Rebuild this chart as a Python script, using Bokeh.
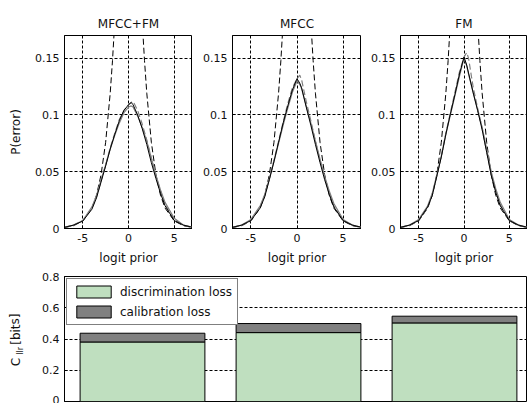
from bokeh.plotting import figure
from bokeh.layouts import row, column
from bokeh.models import FixedTicker, Legend, LegendItem, Range1d
from bokeh.core.properties import value
from bokeh.embed import file_html
from bokeh.resources import INLINE

# ---------------- data ----------------
titles = ["MFCC+FM", "MFCC", "FM"]

# reference (default) curve (black dashed)
ref_x = [-7, -6, -5, -4, -3.5, -3, -2.5, -2, -1.75, -1.5, -1, 0, 1, 1.5, 1.75, 2, 2.5, 3, 3.5, 4, 5, 6, 7]
ref_y = [0.0009, 0.0025, 0.0067, 0.018, 0.0293, 0.0474, 0.0759, 0.1192, 0.148, 0.1824, 0.2689, 0.5,
         0.2689, 0.1824, 0.148, 0.1192, 0.0759, 0.0474, 0.0293, 0.018, 0.0067, 0.0025, 0.0009]

curve_x = [-7, -6, -5, -4, -3.5, -3, -2.5, -2, -1.5, -1, -0.5, 0, 0.3, 0.5, 1, 1.5, 2, 2.5, 3, 3.5, 4, 5, 6, 7]

# MFCC+FM
act_1 = [0.001, 0.003, 0.0065, 0.017, 0.027, 0.041, 0.055, 0.070, 0.083, 0.095, 0.104, 0.109, 0.111, 0.109,
         0.100, 0.088, 0.074, 0.058, 0.044, 0.031, 0.020, 0.007, 0.003, 0.001]
min_1 = [0.001, 0.003, 0.007, 0.019, 0.029, 0.043, 0.056, 0.070, 0.082, 0.093, 0.102, 0.107, 0.108, 0.107,
         0.099, 0.089, 0.077, 0.062, 0.047, 0.034, 0.023, 0.009, 0.003, 0.001]
alt_1 = [0.001, 0.003, 0.007, 0.018, 0.028, 0.042, 0.056, 0.071, 0.084, 0.096, 0.104, 0.109, 0.111, 0.112,
         0.104, 0.092, 0.078, 0.062, 0.046, 0.033, 0.021, 0.008, 0.003, 0.001]
# MFCC
act_2 = [0.001, 0.003, 0.007, 0.018, 0.028, 0.043, 0.059, 0.076, 0.093, 0.108, 0.122, 0.132, 0.128, 0.124,
         0.107, 0.091, 0.074, 0.058, 0.043, 0.030, 0.019, 0.007, 0.003, 0.001]
min_2 = [0.001, 0.003, 0.008, 0.020, 0.030, 0.044, 0.059, 0.075, 0.091, 0.106, 0.120, 0.130, 0.127, 0.123,
         0.108, 0.093, 0.077, 0.061, 0.046, 0.033, 0.022, 0.008, 0.003, 0.001]
alt_2 = [0.001, 0.003, 0.007, 0.019, 0.029, 0.044, 0.060, 0.077, 0.094, 0.110, 0.124, 0.132, 0.135, 0.131,
         0.112, 0.095, 0.077, 0.060, 0.045, 0.031, 0.020, 0.007, 0.003, 0.001]
# FM
act_3 = [0.001, 0.003, 0.007, 0.019, 0.029, 0.046, 0.063, 0.083, 0.101, 0.118, 0.136, 0.151, 0.144, 0.137,
         0.120, 0.104, 0.087, 0.067, 0.047, 0.032, 0.020, 0.007, 0.003, 0.001]
min_3 = [0.001, 0.003, 0.008, 0.020, 0.031, 0.047, 0.064, 0.083, 0.100, 0.117, 0.134, 0.150, 0.143, 0.136,
         0.120, 0.105, 0.089, 0.070, 0.050, 0.035, 0.023, 0.008, 0.003, 0.001]
alt_3 = [0.001, 0.003, 0.007, 0.019, 0.030, 0.046, 0.064, 0.084, 0.102, 0.120, 0.138, 0.151, 0.155, 0.150,
         0.125, 0.106, 0.088, 0.068, 0.048, 0.033, 0.021, 0.007, 0.003, 0.001]

x_ticks = [-5, 0, 5]
x_tick_labels = ["-5", "0", "5"]
y_ticks_top = [0, 0.05, 0.1, 0.15]
y_tick_labels_top = ["0", "0.05", "0.1", "0.15"]

# bottom bar chart
bar_pos = [1, 2, 3]
discrimination_loss = [0.381, 0.441, 0.503]
total_cllr = [0.437, 0.499, 0.546]
y_ticks_bot = [0, 0.2, 0.4, 0.6, 0.8]
y_tick_labels_bot = ["0", "0.2", "0.4", "0.6", "0.8"]

# y-axis label of the bar chart, in parts (C, subscript llr, [bits])
ylab_parts = ["C", "llr", "[bits]"]

FONT = "DejaVu Sans"
GREY = "#808080"
GREEN = "#bfdfbf"
TXT = "#111111"


def style_axes(p, xt, xl, yt, yl):
    for ax in p.xaxis + p.yaxis:
        ax.major_label_text_font = FONT
        ax.major_label_text_font_size = "11px"
        ax.major_label_text_color = TXT
        ax.major_label_standoff = 5
        ax.axis_label_text_font = FONT
        ax.axis_label_text_font_size = "12px"
        ax.axis_label_text_font_style = "normal"
        ax.axis_label_text_color = TXT
        ax.axis_line_color = "#000000"
        ax.major_tick_line_color = "#000000"
        ax.major_tick_in = 3
        ax.major_tick_out = 0
        ax.minor_tick_line_color = None
    if xt is not None:
        p.xaxis.ticker = FixedTicker(ticks=xt)
        p.xaxis.major_label_overrides = {t: l for t, l in zip(xt, xl)}
        p.xgrid.ticker = FixedTicker(ticks=xt)
    p.yaxis.ticker = FixedTicker(ticks=yt)
    p.yaxis.major_label_overrides = {t: l for t, l in zip(yt, yl)}
    p.ygrid.ticker = FixedTicker(ticks=yt)
    for g in p.xgrid + p.ygrid:
        g.grid_line_color = "#000000"
        g.grid_line_dash = "3 2"
        g.grid_line_width = 1
    p.outline_line_color = "#000000"
    p.outline_line_alpha = 1


series = [(act_1, min_1, alt_1), (act_2, min_2, alt_2), (act_3, min_3, alt_3)]
widths = [192, 169, 166]
borders = [64, 40, 39]
figs = []
for i in range(3):
    p = figure(width=widths[i], height=270, x_range=(-7, 7), y_range=(0, 0.17),
               output_backend="svg", toolbar_location=None,
               min_border_left=borders[i], min_border_right=0,
               min_border_top=35, min_border_bottom=42, title=titles[i])
    p.title.align = "center"
    p.title.text_font = FONT
    p.title.text_font_size = "12px"
    p.title.text_font_style = "normal"
    p.title.text_color = TXT
    p.title.standoff = 9
    act, mn, alt = series[i]
    p.line(ref_x, ref_y, line_color="#000000", line_width=1, line_dash="6 3")
    p.line(curve_x, mn, line_color=GREY, line_width=1.2)
    p.line(curve_x, alt, line_color=GREY, line_width=1.2, line_dash="6 3")
    p.line(curve_x, act, line_color="#000000", line_width=1)
    p.xaxis.axis_label = "logit prior"
    style_axes(p, x_ticks, x_tick_labels, y_ticks_top, y_tick_labels_top)
    p.xaxis.axis_label_standoff = 6
    if i == 0:
        p.yaxis.axis_label = "P(error)"
        p.yaxis.axis_label_standoff = 9
    figs.append(p)

# narrow strip carrying the rotated y label "C_llr [bits]"
pl = figure(width=30, height=133, x_range=Range1d(0, 30), y_range=Range1d(0, 133),
            output_backend="svg", toolbar_location=None,
            min_border_left=0, min_border_right=0, min_border_top=0, min_border_bottom=0)
pl.axis.visible = False
pl.grid.visible = False
pl.outline_line_color = None
pl.text(x=[15, 20, 15], y=[42, 54, 77], text=ylab_parts, angle=1.5708,
        text_align="center", text_baseline="middle", text_color=TXT,
        text_font=value(FONT), text_font_size=["12px", "8px", "12px"])

# bottom bar chart
pb = figure(width=497, height=133, x_range=(0.5, 3.468), y_range=(0, 0.8),
            output_backend="svg", toolbar_location=None,
            min_border_left=34, min_border_right=0, min_border_top=6, min_border_bottom=2)
r_disc = pb.vbar(x=bar_pos, width=0.8, bottom=0, top=discrimination_loss,
                 fill_color=GREEN, line_color="#000000", line_width=1)
r_cal = pb.vbar(x=bar_pos, width=0.8, bottom=discrimination_loss, top=total_cllr,
                fill_color=GREY, line_color="#000000", line_width=1)
style_axes(pb, None, None, y_ticks_bot, y_tick_labels_bot)
pb.xaxis.visible = False
pb.xgrid.visible = False

legend = Legend(items=[LegendItem(label="discrimination loss", renderers=[r_disc]),
                       LegendItem(label="calibration loss", renderers=[r_cal])],
                location="top_left", margin=2, padding=5, spacing=5,
                glyph_width=43, glyph_height=15, label_standoff=5,
                label_text_font=FONT, label_text_font_size="12px", label_text_color=TXT,
                border_line_color="#000000", border_line_width=1,
                background_fill_color="#ffffff", background_fill_alpha=1)
pb.add_layout(legend)

layout = column(row(*figs), row(pl, pb))
open("out.html", "w").write(file_html(layout, INLINE))
